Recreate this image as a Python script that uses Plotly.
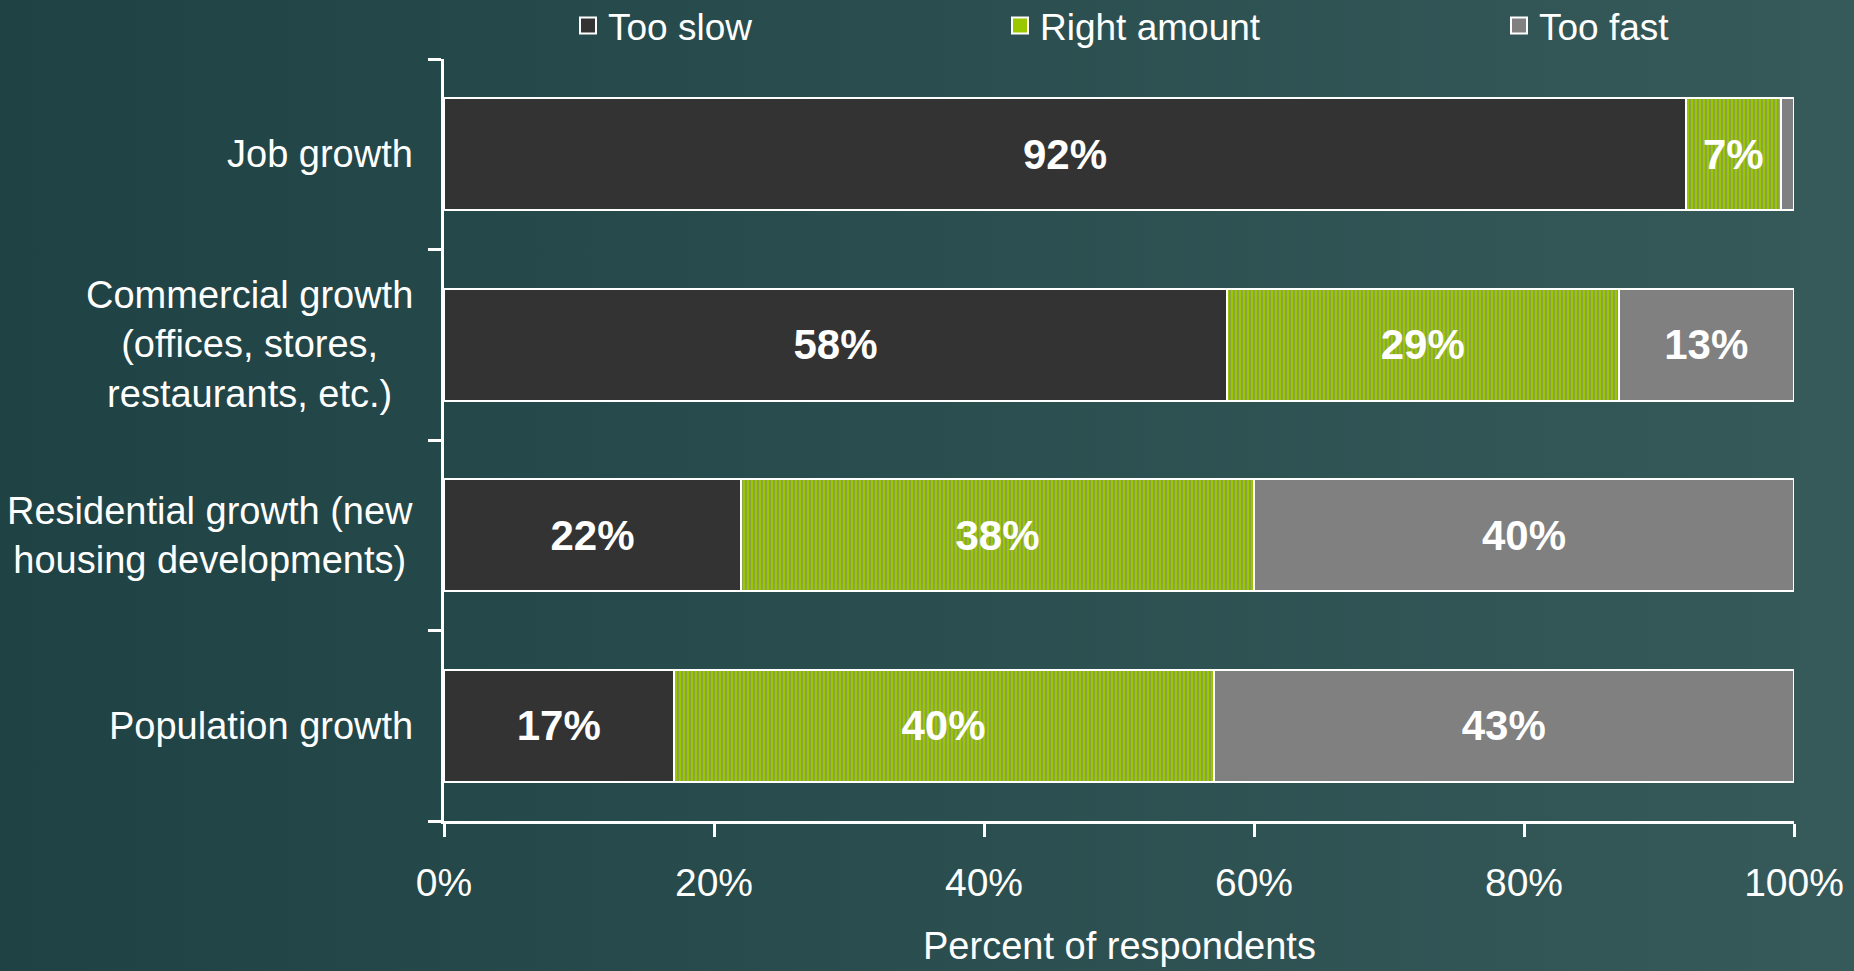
import plotly.graph_objects as go

# Survey data: share of respondents per growth type
CATEGORIES = [
    "Job growth",
    "Commercial growth",
    "Residential growth",
    "Population growth",
]
CATEGORY_LABELS = [
    "Job growth",
    "Commercial growth<br>(offices, stores,<br>restaurants, etc.)",
    "Residential growth (new<br>housing developments)",
    "Population growth",
]
TOO_SLOW = [92, 58, 22, 17]
RIGHT_AMOUNT = [7, 29, 38, 40]
TOO_FAST = [1, 13, 40, 43]
X_TICKS = [0, 20, 40, 60, 80, 100]
X_TICK_LABELS = ["0%", "20%", "40%", "60%", "80%", "100%"]

FONT = "Liberation Sans, Arial, sans-serif"
W, H = 1854, 971
M = dict(l=444, r=60, t=59, b=150)
PW = W - M["l"] - M["r"]
PH = H - M["t"] - M["b"]

GREEN = "#99c800"
SERIES = [
    ("Too slow", TOO_SLOW, "#333333",
     dict(color="#333333"), "legend2", 580),
    ("Right amount", RIGHT_AMOUNT, GREEN,
     dict(color=GREEN, pattern=dict(shape="|", fgcolor="#80808e", bgcolor=GREEN,
                                    size=4, solidity=0.5)), "legend3", 1012),
    ("Too fast", TOO_FAST, "#808080",
     dict(color="#808080"), "legend4", 1511),
]

fig = go.Figure()
for name, vals, colour, marker, leg, _ in SERIES:
    labels = [f"{v}%" if v >= 5 else "" for v in vals]
    fig.add_trace(
        go.Bar(
            y=CATEGORIES,
            x=vals,
            name=name,
            orientation="h",
            marker=dict(**marker, line=dict(color="white", width=2)),
            text=labels,
            textposition="inside",
            insidetextanchor="middle",
            textangle=0,
            textfont=dict(family=FONT, size=42, color="white", weight="bold"),
            showlegend=False,
        )
    )
    # legend entry with a bigger square swatch
    fig.add_trace(
        go.Scatter(
            x=[None], y=[None], mode="markers", name=name,
            marker=dict(symbol="square", size=16, color=colour,
                        line=dict(color="white", width=2)),
            legend=leg, showlegend=True, hoverinfo="skip",
        )
    )

# horizontal gradient background (svg data uri)
svg = (
    "<svg xmlns='http://www.w3.org/2000/svg' width='100' height='100' preserveAspectRatio='none'>"
    "<defs><linearGradient id='g' x1='0' y1='0' x2='1' y2='0'>"
    "<stop offset='0' stop-color='%231f4244'/><stop offset='1' stop-color='%23365a5a'/>"
    "</linearGradient></defs><rect width='100' height='100' fill='url(%23g)'/></svg>"
)
fig.add_layout_image(
    source="data:image/svg+xml;utf8," + svg,
    xref="paper", yref="paper",
    x=-M["l"] / PW, y=1 + M["t"] / PH,
    sizex=W / PW, sizey=H / PH,
    xanchor="left", yanchor="top",
    sizing="stretch", layer="below",
)

# category labels, centre-aligned lines like the original
for cat, lab in zip(CATEGORIES, CATEGORY_LABELS):
    fig.add_annotation(
        x=0, xref="paper", y=cat, yref="y",
        text=lab, showarrow=False,
        xanchor="right", yanchor="middle", align="center", xshift=-29,
        font=dict(family=FONT, size=38, color="white"),
    )

fig.add_annotation(
    x=0.5, xref="paper", y=-(946 - (H - M["b"])) / PH, yref="paper",
    text="Percent of respondents", showarrow=False,
    xanchor="center", yanchor="middle",
    font=dict(family=FONT, size=38, color="white"),
)

legend_style = dict(
    orientation="h", xref="container", yref="container",
    xanchor="left", yanchor="middle", y=1 - 26 / H,
    bgcolor="rgba(0,0,0,0)", font=dict(family=FONT, size=37, color="white"),
    itemsizing="trace", itemwidth=30,
)
legends = {leg: dict(x=(px - 12) / W, **legend_style) for _, _, _, _, leg, px in SERIES}

fig.update_layout(
    barmode="stack",
    width=W,
    height=H,
    margin=dict(**M, autoexpand=False),
    paper_bgcolor="#2b4f50",
    plot_bgcolor="rgba(0,0,0,0)",
    bargap=0.41,
    showlegend=True,
    font=dict(family=FONT, size=38, color="white"),
    **legends,
    xaxis=dict(
        range=[0, 100],
        tickvals=X_TICKS,
        ticktext=X_TICK_LABELS,
        showgrid=False,
        zeroline=False,
        showline=True,
        linecolor="white",
        linewidth=3,
        ticks="outside",
        ticklen=13,
        tickwidth=3,
        tickcolor="white",
        ticklabelstandoff=12,
        tickfont=dict(family=FONT, size=39, color="white"),
    ),
    yaxis=dict(
        categoryorder="array",
        categoryarray=CATEGORIES[::-1],
        tickson="boundaries",
        showticklabels=False,
        showgrid=False,
        showline=True,
        linecolor="white",
        linewidth=3,
        ticks="outside",
        ticklen=13,
        tickwidth=3,
        tickcolor="white",
    ),
)

fig.write_html(
    "out.html",
    config=dict(displayModeBar=False),
    post_script="document.body.style.margin='0';document.body.style.overflow='hidden';",
)
